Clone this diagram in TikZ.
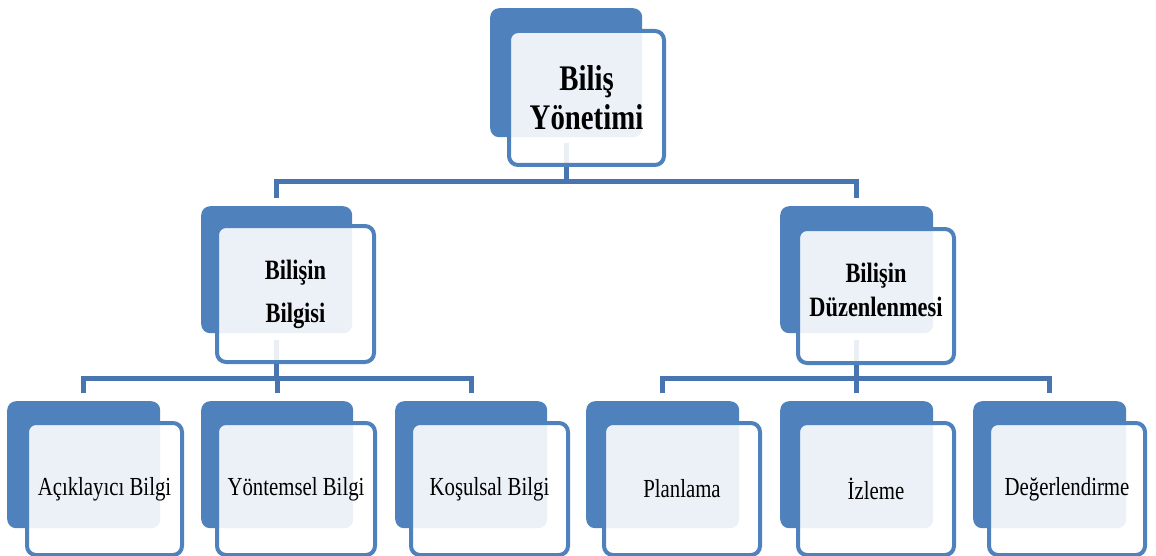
\documentclass[tikz,border=0pt]{standalone}
\usepackage{fontspec}
\newfontfamily\tnr[FakeStretch=0.8]{Liberation Serif}
\definecolor{boxblue}{HTML}{4F81BD}
\definecolor{linkblue}{HTML}{4874B0}
\begin{document}
\begin{tikzpicture}[x=1pt,y=-1pt,
  backbox/.style={rectangle, rounded corners=9pt, fill=boxblue, draw=none,
    inner sep=0pt, anchor=north west},
  frontbox/.style={rectangle, rounded corners=9pt, draw=boxblue, line width=4pt,
    fill=white, fill opacity=0.89, text opacity=1, draw opacity=1,
    inner sep=0pt, anchor=north west, align=center, text=black},
  label/.style={inner sep=0pt, align=center, text=black},
  conn/.style={draw=linkblue, line width=5pt, line join=miter},
  topfont/.style={font=\tnr\bfseries\fontsize{36}{39}\selectfont},
  midfont/.style={font=\tnr\bfseries\fontsize{28}{43}\selectfont},
  midfontb/.style={font=\tnr\bfseries\fontsize{28}{34}\selectfont},
  lowfont/.style={font=\tnr\fontsize{26}{30}\selectfont},
]
\useasboundingbox (0,0) rectangle (1156,556);

% back cards
\node[backbox, minimum width=152pt, minimum height=129pt] (tb) at (490,8) {};
\node[backbox, minimum width=151pt, minimum height=127pt] (ab) at (201,206) {};
\node[backbox, minimum width=153pt, minimum height=127pt] (bb) at (780,206) {};
\node[backbox, minimum width=153pt, minimum height=127pt] (a1b) at (7,401) {};
\node[backbox, minimum width=152pt, minimum height=127pt] (a2b) at (201,401) {};
\node[backbox, minimum width=152pt, minimum height=127pt] (a3b) at (395,401) {};
\node[backbox, minimum width=153pt, minimum height=127pt] (b1b) at (586,401) {};
\node[backbox, minimum width=153pt, minimum height=127pt] (b2b) at (780,401) {};
\node[backbox, minimum width=153pt, minimum height=127pt] (b3b) at (973,401) {};

% bar levels
\coordinate (bar1) at (0,182);
\coordinate (bar2) at (0,378);

% connectors
\foreach \c in {ab,bb}
  \draw[conn] ([yshift=-6pt]tb.south) -- (tb.south |- bar1) -| ([yshift=8pt]\c.north);
\foreach \c in {a1b,a2b,a3b}
  \draw[conn] ([yshift=-7pt]ab.south) -- (ab.south |- bar2) -| ([yshift=8pt]\c.north);
\foreach \c in {b1b,b2b,b3b}
  \draw[conn] ([yshift=-7pt]bb.south) -- (bb.south |- bar2) -| ([yshift=8pt]\c.north);

% front cards with labels
\node[frontbox, topfont, minimum width=155pt, minimum height=134pt] (t) at (507,29) {Biliş\\Yönetimi};
\node[frontbox, midfont, minimum width=157pt, minimum height=136pt] (a) at (215,224) {Bilişin\\Bilgisi};
\node[frontbox, minimum width=156pt, minimum height=134pt] (b) at (796,227) {};
\node[label, midfontb] (bt) at ([yshift=6pt]b.center) {Bilişin\\Düzenlenmesi};
\node[frontbox, lowfont, minimum width=155pt, minimum height=132pt] (a1) at (25,421) {Açıklayıcı Bilgi};
\node[frontbox, lowfont, minimum width=158pt, minimum height=132pt] (a2) at (215,421) {Yöntemsel Bilgi};
\node[frontbox, lowfont, minimum width=157pt, minimum height=132pt] (a3) at (409,421) {Koşulsal Bilgi};
\node[frontbox, lowfont, minimum width=156pt, minimum height=132pt] (b1) at (602,421) {Planlama};
\node[frontbox, lowfont, minimum width=156pt, minimum height=132pt] (b2) at (796,421) {İzleme};
\node[frontbox, lowfont, minimum width=156pt, minimum height=132pt] (b3) at (987,421) {Değerlendirme};
\end{tikzpicture}
\end{document}
